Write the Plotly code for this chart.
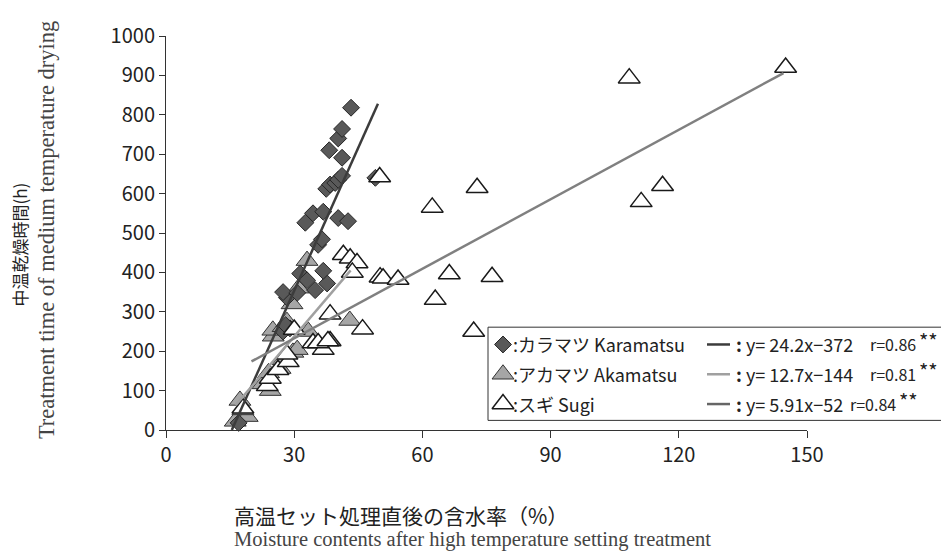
import plotly.graph_objects as go

# カラマツ Karamatsu (diamonds)
kara_x = [17, 27.4, 29, 28, 28.3, 27.4, 30.7, 31.4, 33, 34.9, 37.7, 36.8,
          35.6, 36.5, 32.6, 34.4, 36.8, 40.3, 42.6, 37.5, 38.4, 39.6, 40.3,
          41.2, 41.2, 38.2, 40.3, 41.2, 43.3, 49]
kara_y = [18, 250, 258, 266, 336, 350, 348, 397, 380, 355, 372, 404,
          470, 484, 526, 550, 554, 538, 530, 612, 623, 627, 635,
          645, 691, 710, 740, 764, 818, 640]

# アカマツ Akamatsu (grey triangles)
aka_x = [16.2, 19, 18, 17.3, 22.7, 24.4, 24, 26.7, 27.4, 29.7, 30.7, 25.1,
         33.3, 25, 27.4, 28.3, 43, 33, 29.5, 31]
aka_y = [22, 34, 51, 75, 117, 100, 145, 156, 178, 197, 204, 238,
         250, 253, 262, 275, 278, 430, 320, 360]

# スギ Sugi (open triangles)
sugi_x = [18, 23.7, 24.4, 26.2, 28.6, 28.3, 34.4, 36.8, 38.4, 35.6, 37.9,
          38.4, 46, 41.5, 43.1, 44.7, 43.6, 50.1, 50.8, 54.3, 50, 62.3, 63,
          66.3, 72, 72.8, 76.3, 108.4, 111.2, 116.2, 145, 30]
sugi_y = [55, 112, 131, 153, 173, 192, 221, 204, 226, 221, 226,
          294, 256, 445, 436, 424, 400, 388, 385, 382, 642, 565, 331,
          396, 250, 615, 389, 893, 579, 620, 920, 255]

# trend lines, end points
kara_fit_x = [15.4, 49.6]
kara_fit_y = [0, 828]
aka_fit_x = [16.3, 43.2]
aka_fit_y = [63, 405]
sugi_fit_x = [20, 144.5]
sugi_fit_y = [174, 906]

x_ticks = [0, 30, 60, 90, 120, 150]
y_ticks = [0, 100, 200, 300, 400, 500, 600, 700, 800, 900, 1000]

legend_names = [':カラマツ Karamatsu', ':アカマツ Akamatsu', ':スギ Sugi']
legend_eqs = ['y= 24.2x−372', 'y= 12.7x−144', 'y= 5.91x−52']
legend_r = ['r=0.86', 'r=0.81', 'r=0.84']

SANS = 'Noto Sans CJK JP'
SERIF = 'Liberation Serif'

# the page body has an 8px margin, so the figure is drawn 8px in from the corner
OFF = 8
W, H = 949 - OFF, 556 - OFF
# plot area in screen pixels
L, R, T, B = 166, 807, 20, 430


def px(x):
    return (x - L) / (R - L)


def py(y):
    return (B - y) / (B - T)


dia = dict(symbol='diamond', size=13, color='#595959', line=dict(color='#262626', width=1))
grey_tri = dict(symbol='triangle-up', size=19, color='#a6a6a6', line=dict(color='#333333', width=1))
open_tri = dict(symbol='triangle-up', size=19, color='white', line=dict(color='#1a1a1a', width=1.5))

fig = go.Figure()
fig.add_trace(go.Scatter(x=aka_x, y=aka_y, mode='markers', marker=grey_tri, cliponaxis=False))
fig.add_trace(go.Scatter(x=kara_x, y=kara_y, mode='markers', marker=dia, cliponaxis=False))
fig.add_trace(go.Scatter(x=sugi_x, y=sugi_y, mode='markers', marker=open_tri, cliponaxis=False))

fig.add_trace(go.Scatter(x=kara_fit_x, y=kara_fit_y, mode='lines', line=dict(color='#3c3c3c', width=2.5)))
fig.add_trace(go.Scatter(x=aka_fit_x, y=aka_fit_y, mode='lines', line=dict(color='#a0a0a0', width=2.5)))
fig.add_trace(go.Scatter(x=sugi_fit_x, y=sugi_fit_y, mode='lines', line=dict(color='#808080', width=2.5)))

# legend box
row_y = [341, 372, 403]
fig.add_shape(type='rect', xref='paper', yref='paper', x0=px(488), x1=px(946), y0=py(420), y1=py(323),
              line=dict(color='#333333', width=1), fillcolor='white', layer='below')

# legend markers on an overlay axis in paper units
mk = [dia, grey_tri, open_tri]
for i in range(3):
    fig.add_trace(go.Scatter(x=[px(503)], y=[py(row_y[i])], mode='markers', marker=mk[i],
                             xaxis='x2', yaxis='y2', cliponaxis=False))

line_cols = ['#3c3c3c', '#a0a0a0', '#666666']
r_left = [868, 868, 848]
for i in range(3):
    fig.add_shape(type='line', xref='paper', yref='paper', x0=px(707), x1=px(730),
                  y0=py(row_y[i]), y1=py(row_y[i]), line=dict(color=line_cols[i], width=2.5), layer='above')
    fig.add_annotation(x=px(511), y=py(row_y[i]), xref='paper', yref='paper', text=legend_names[i],
                       showarrow=False, xanchor='left', yanchor='middle', font=dict(family=SANS, size=18, color='#222'))
    fig.add_annotation(x=px(734), y=py(row_y[i]), xref='paper', yref='paper', text='<b>:</b> ' + legend_eqs[i],
                       showarrow=False, xanchor='left', yanchor='middle', font=dict(family=SANS, size=18, color='#222'))
    fig.add_annotation(x=px(r_left[i]), y=py(row_y[i]), xref='paper', yref='paper', text=legend_r[i],
                       showarrow=False, xanchor='left', yanchor='middle', font=dict(family=SANS, size=16, color='#222'))
    fig.add_annotation(x=px(r_left[i] + 49), y=py(row_y[i] - 4), xref='paper', yref='paper', text='**',
                       showarrow=False, xanchor='left', yanchor='middle', font=dict(family=SANS, size=20, color='#222'))

# axis titles
fig.add_annotation(x=px(232), y=py(518), xref='paper', yref='paper', text='高温セット処理直後の含水率（%）',
                   showarrow=False, xanchor='left', yanchor='middle', font=dict(family=SANS, size=21, color='#222'))
fig.add_annotation(x=px(232), y=py(544), xref='paper', yref='paper',
                   text='Moisture contents after high temperature setting treatment',
                   showarrow=False, xanchor='left', yanchor='middle', font=dict(family=SERIF, size=20.5, color='#444'))
fig.add_annotation(x=px(20), y=py(237), xref='paper', yref='paper', text='中温乾燥時間(h)', textangle=-90,
                   showarrow=False, xanchor='center', yanchor='middle', font=dict(family=SANS, size=17, color='#222'))
fig.add_annotation(x=px(46), y=py(222), xref='paper', yref='paper',
                   text='Treatment time of medium temperature drying', textangle=-90,
                   showarrow=False, xanchor='center', yanchor='middle', font=dict(family=SERIF, size=22.5, color='#444'))

fig.update_layout(
    width=W, height=H,
    margin=dict(l=L - OFF, r=W - (R - OFF), t=T - OFF, b=H - (B - OFF)),
    paper_bgcolor='white', plot_bgcolor='white',
    showlegend=False,
    font=dict(family=SANS, size=20, color='#222'),
    xaxis=dict(range=[0, 150], tickvals=x_ticks, showgrid=False, zeroline=False,
               showline=True, linecolor='#333', linewidth=1, ticks='outside', ticklen=7,
               tickcolor='#333', ticklabeloverflow='allow'),
    yaxis=dict(range=[0, 1000], tickvals=y_ticks, showgrid=False, zeroline=False,
               showline=True, linecolor='#333', linewidth=1, ticks='outside', ticklen=6,
               tickcolor='#333', ticklabeloverflow='allow'),
    xaxis2=dict(range=[0, 1], overlaying='x', visible=False),
    yaxis2=dict(range=[0, 1], overlaying='y', visible=False),
)

fig.write_html("out.html")
